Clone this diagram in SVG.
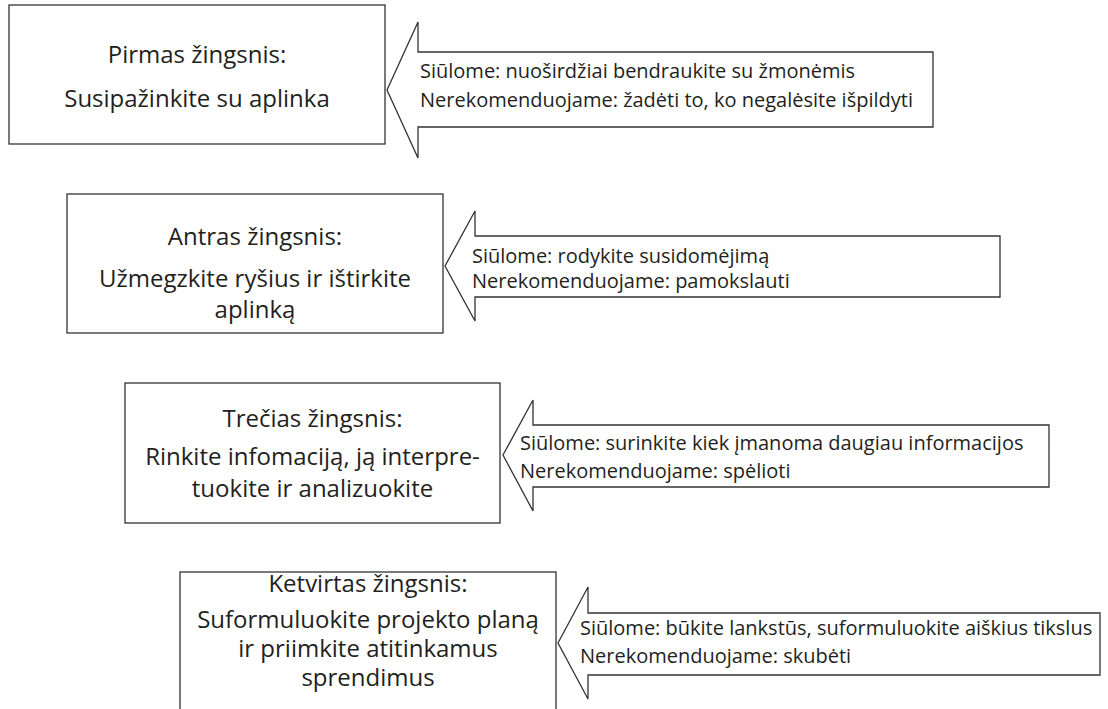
<svg xmlns="http://www.w3.org/2000/svg" width="1108" height="709" viewBox="0 0 1108 709">
  <style>
    .box { fill: #ffffff; stroke: #333333; stroke-width: 1.3; }
    .arrow { fill: #ffffff; stroke: #333333; stroke-width: 1.3; stroke-linejoin: miter; }
    .step { font-family: "Open Sans", "Noto Sans", sans-serif; font-size: 24px; fill: #231f20; text-anchor: middle; }
    .tip { font-family: "Open Sans", "Noto Sans", sans-serif; font-size: 20px; fill: #231f20; }
  </style>
  <rect width="1108" height="709" fill="#ffffff"/>

  <!-- step boxes -->
  <g id="step1">
    <rect class="box" x="9" y="5" width="376" height="139"/>
    <text class="step" x="197" y="63">Pirmas žingsnis:</text>
    <text class="step" x="197" y="107">Susipažinkite su aplinka</text>
  </g>
  <g id="step2">
    <rect class="box" x="67" y="194" width="376" height="139"/>
    <text class="step" x="255" y="245">Antras žingsnis:</text>
    <text class="step" x="255" y="287">Užmegzkite ryšius ir ištirkite</text>
    <text class="step" x="255" y="318">aplinką</text>
  </g>
  <g id="step3">
    <rect class="box" x="125" y="383" width="375" height="140"/>
    <text class="step" x="312.5" y="427">Trečias žingsnis:</text>
    <text class="step" x="312.5" y="465">Rinkite infomaciją, ją interpre-</text>
    <text class="step" x="312.5" y="497">tuokite ir analizuokite</text>
  </g>
  <g id="step4">
    <rect class="box" x="180" y="572" width="376" height="160"/>
    <text class="step" x="368" y="592">Ketvirtas žingsnis:</text>
    <text class="step" x="368" y="628">Suformuluokite projekto planą</text>
    <text class="step" x="368" y="657">ir priimkite atitinkamus</text>
    <text class="step" x="368" y="686">sprendimus</text>
  </g>

  <!-- advice arrows pointing back at each step -->
  <g id="connectors">
    <g id="advice1">
      <path class="arrow" d="M387,90 L418,22 L418,52 L933,52 L933,127 L418,127 L418,158 Z"/>
      <text class="tip" x="420" y="78">Siūlome: nuoširdžiai bendraukite su žmonėmis</text>
      <text class="tip" x="420" y="107">Nerekomenduojame: žadėti to, ko negalėsite išpildyti</text>
    </g>
    <g id="advice2">
      <path class="arrow" d="M445,266 L475,211 L475,236 L1000,236 L1000,297 L475,297 L475,321 Z"/>
      <text class="tip" x="472" y="263">Siūlome: rodykite susidomėjimą</text>
      <text class="tip" x="472" y="288">Nerekomenduojame: pamokslauti</text>
    </g>
    <g id="advice3">
      <path class="arrow" d="M503,455 L533,400 L533,425 L1049,425 L1049,487 L533,487 L533,511 Z"/>
      <text class="tip" x="520" y="450">Siūlome: surinkite kiek įmanoma daugiau informacijos</text>
      <text class="tip" x="520" y="478">Nerekomenduojame: spėlioti</text>
    </g>
    <g id="advice4">
      <path class="arrow" d="M558,643 L588,587 L588,613 L1100,613 L1100,675 L588,675 L588,699 Z"/>
      <text class="tip" x="580" y="635">Siūlome: būkite lankstūs, suformuluokite aiškius tikslus</text>
      <text class="tip" x="580" y="663">Nerekomenduojame: skubėti</text>
    </g>
  </g>
</svg>
